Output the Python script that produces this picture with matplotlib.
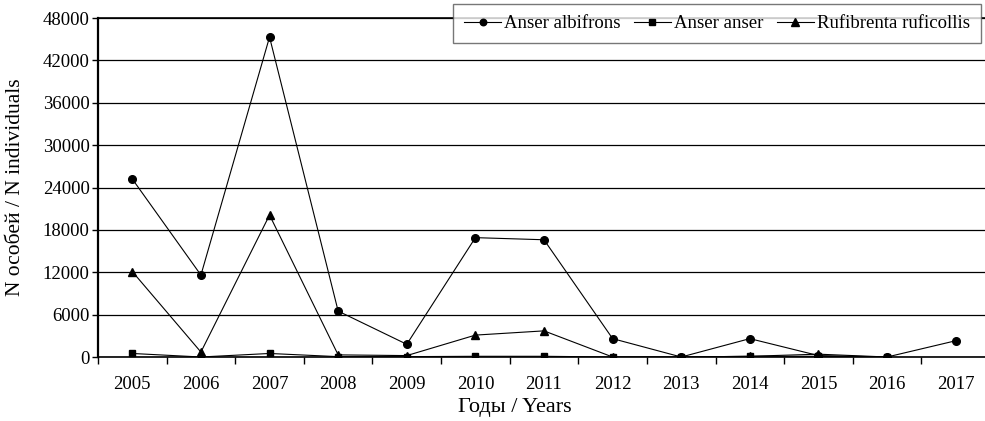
import numpy as np
import matplotlib.pyplot as plt

plt.rcParams['font.family'] = ['Liberation Serif', 'DejaVu Serif']

years = ['2005', '2006', '2007', '2008', '2009', '2010', '2011',
         '2012', '2013', '2014', '2015', '2016', '2017']

# counts per year; Anser anser has no value for 2017
albifrons = [25200, 11600, 45300, 6500, 1800, 16900, 16600,
             2600, 0, 2600, 200, 0, 2300]
anser = [500, 0, 500, 50, 50, 100, 100, 0, 0, 100, 100, 0, np.nan]
ruficollis = [12100, 700, 20100, 300, 200, 3100, 3700, 0, 0, 100, 400, 0, np.nan]

fig = plt.figure(figsize=(9.85, 4.21), dpi=100)
ax = fig.add_axes([98 / 985, 1 - 357 / 421, 892 / 985, 339 / 421])

x = np.arange(len(years))
ax.plot(x, albifrons, color='black', lw=0.8, marker='o', ms=5.5, label='Anser albifrons')
ax.plot(x, anser, color='black', lw=0.8, marker='s', ms=5, label='Anser anser')
ax.plot(x, ruficollis, color='black', lw=0.8, marker='^', ms=6, label='Rufibrenta ruficollis')

ax.set_xlim(-0.5, len(years) - 0.5)
ax.set_ylim(0, 48000)
ax.set_yticks(np.arange(0, 48001, 6000))
ax.yaxis.grid(True, color='black', lw=0.9)
ax.set_axisbelow(True)

ax.set_xticks(x)
ax.set_xticklabels(years)
ax.set_xticks(np.arange(-0.5, len(years), 1), minor=True)
ax.tick_params(axis='x', which='major', length=0, pad=14, labelsize=13.5)
ax.tick_params(axis='x', which='minor', length=5, width=1, direction='out')
ax.tick_params(axis='y', length=4, width=1, labelsize=13.5, pad=2)

ax.spines['right'].set_visible(False)
ax.spines['left'].set_linewidth(1.6)
ax.spines['bottom'].set_linewidth(1.2)
ax.spines['top'].set_linewidth(1.2)

ax.set_xlabel('Годы / Years', fontsize=16)
ax.xaxis.set_label_coords(0.467, -0.12)
ax.set_ylabel('N особей / N individuals', fontsize=15.5)
ax.yaxis.set_label_coords(-0.082, 0.5)

leg = ax.legend(loc='upper right', bbox_to_anchor=(0.99, 1.042), ncol=3,
                fontsize=13.5, frameon=True, fancybox=False, handlelength=2.0,
                handletextpad=0.15, columnspacing=0.7, borderpad=0.6,
                borderaxespad=0, markerscale=0.85)
leg.get_frame().set_edgecolor('#555555')
leg.get_frame().set_linewidth(1.0)

fig.savefig('out.png', dpi=100)
